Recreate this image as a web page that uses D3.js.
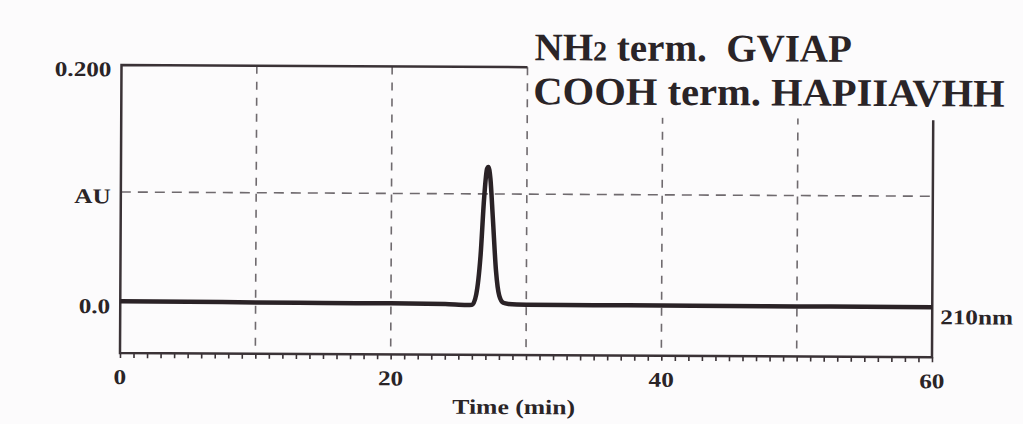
<!DOCTYPE html>
<html>
  <head>
  <title>Chromatogram</title>
  <script src="https://cdn.jsdelivr.net/npm/d3@7"></script>
  <style type="text/css">
    body { margin: 0; background: #fcfbfc; }
    text { font-family: "Liberation Serif", "Times New Roman", serif; font-weight: bold; fill: #2a2427; }
  </style>
  </head>
  <body>
  </body>
  <script type="text/javascript">
    // data
    var times = [0, 5, 10, 15, 20, 24, 25.6, 26.0, 26.3, 26.6, 26.85, 27.05, 27.15, 27.3, 27.5, 27.75, 28.0, 28.3, 28.7, 29.3, 30, 35, 40, 45, 50, 55, 60];
    var absorb = [0.0006, 0.0004, 0.0002, 0.0, 0.0, -0.0003, -0.001, -0.0008, 0.008, 0.04, 0.09, 0.114, 0.1156, 0.106, 0.072, 0.028, 0.007, 0.001, 0.0, -0.0004, -0.0005, -0.0006, -0.0006, -0.0007, -0.0008, -0.0008, -0.0008];
    var yTickValues = [0, 0.0928, 0.2];
    var yTickLabels = ["0.0", "AU", "0.200"];
    var xGridValues = [10, 20, 30, 40, 50];
    var xLabelValues = [0, 20, 40, 60];
    var titleLines = ["NH2 term.  GVIAP", "COOH term. HAPIIAVHH"];

    var w = 1023, h = 424;
    var pLeft = 120, pRight = 932, pTop = 65, pBottom = 353;

    var svg = d3.select("body").append("svg")
      .attr("width", w)
      .attr("height", h);

    // scanned page is very slightly tilted
    var g = svg.append("g")
      .attr("transform", "rotate(0.3," + pLeft + "," + pBottom + ")");

    var x = d3.scaleLinear().domain([0, 60]).range([pLeft, pRight]);
    var y = d3.scaleLinear().domain([-0.0431, 0.2]).range([pBottom, pTop]);

    // the scan stretches the lettering sideways a bit
    function stretch(sel, k) {
      sel.each(function() {
        var len = this.getComputedTextLength();
        d3.select(this).attr("textLength", len * k).attr("lengthAdjust", "spacingAndGlyphs");
      });
    }

    // grid
    g.selectAll("line.vgrid")
      .data(xGridValues)
      .enter().append("line")
      .attr("class", "vgrid")
      .attr("x1", function(d) { return x(d); })
      .attr("x2", function(d) { return x(d); })
      .attr("y1", pTop)
      .attr("y2", pBottom)
      .attr("stroke", "#6f6a6e")
      .attr("stroke-width", 1.6)
      .attr("stroke-dasharray", "8,8");

    g.append("line")
      .attr("x1", pLeft).attr("x2", pRight)
      .attr("y1", y(yTickValues[1])).attr("y2", y(yTickValues[1]))
      .attr("stroke", "#6f6a6e")
      .attr("stroke-width", 1.6)
      .attr("stroke-dasharray", "10,7");

    // minor ticks every minute
    var xAxis = d3.axisBottom(x)
      .tickValues(d3.range(0, 61, 1))
      .tickSize(5)
      .tickFormat("");
    var ax = g.append("g")
      .attr("transform", "translate(0," + pBottom + ")")
      .call(xAxis);
    ax.select(".domain").remove();
    ax.selectAll(".tick line").attr("stroke", "#3a3236").attr("stroke-width", 1.6);

    // white block behind the title
    g.append("rect")
      .attr("x", 528).attr("y", 20)
      .attr("width", 480).attr("height", 95)
      .attr("fill", "#fcfbfc");

    // frame
    g.append("path")
      .attr("d", "M" + 526 + "," + pTop + "H" + pLeft + "V" + pBottom + "H" + pRight + "V" + 116)
      .attr("fill", "none")
      .attr("stroke", "#3a3236")
      .attr("stroke-width", 2.5);

    // y labels
    g.selectAll("text.ylab")
      .data(yTickValues)
      .enter().append("text")
      .attr("class", "ylab")
      .attr("x", pLeft - 10)
      .attr("y", function(d) { return y(d) + 4; })
      .attr("dy", "0.35em")
      .attr("text-anchor", "end")
      .attr("font-size", 21)
      .text(function(d, i) { return yTickLabels[i]; })
      .call(stretch, 1.2);

    // x labels
    g.selectAll("text.xlab")
      .data(xLabelValues)
      .enter().append("text")
      .attr("class", "xlab")
      .attr("x", function(d) { return x(d); })
      .attr("y", pBottom + 31)
      .attr("text-anchor", "middle")
      .attr("font-size", 21)
      .text(function(d) { return d; })
      .call(stretch, 1.2);

    g.append("text")
      .attr("x", 514)
      .attr("y", 412)
      .attr("text-anchor", "middle")
      .attr("font-size", 21)
      .text("Time (min)")
      .call(stretch, 1.22);

    g.append("text")
      .attr("x", pRight + 8)
      .attr("y", y(0) + 18)
      .attr("font-size", 21)
      .text("210nm")
      .call(stretch, 1.2);

    // trace
    var line = d3.line()
      .x(function(d, i) { return x(times[i]); })
      .y(function(d) { return y(d); })
      .curve(d3.curveMonotoneX);

    g.append("path")
      .datum(absorb)
      .attr("fill", "none")
      .attr("stroke", "#2a2226")
      .attr("stroke-width", 4.5)
      .attr("stroke-linejoin", "round")
      .attr("d", line);

    // title block
    var t = g.append("text")
      .attr("x", 533)
      .attr("y", 58)
      .attr("font-size", 39);
    t.append("tspan").text("NH");
    t.append("tspan").attr("font-size", 28).text("2");
    t.append("tspan").attr("xml:space", "preserve").text(titleLines[0].slice(3));

    g.append("text")
      .attr("x", 532)
      .attr("y", 102)
      .attr("font-size", 39)
      .text(titleLines[1])
      .call(stretch, 1.04);
  </script>
</html>
